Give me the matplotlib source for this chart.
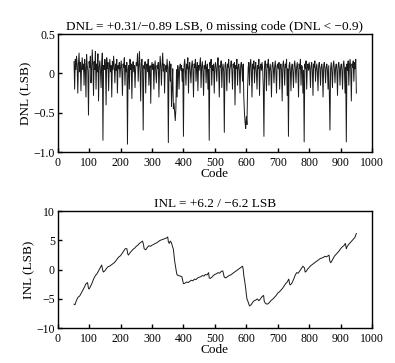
import matplotlib
matplotlib.use("Agg")
import matplotlib.pyplot as plt

plt.rcParams['font.family'] = ['Liberation Serif', 'DejaVu Serif']

# DNL (LSB), one value every 2 codes from 52 to 950
dnl_codes = list(range(52, 951, 2))
dnl_values = [
    .15, -.20, .18, .05, .22, .10, -.25, .12, .26, .02, .14, -.22, .08, .20, .05, .12, -.15, .18, .06, -.30, .24, .10, .03, -.53, .15,
    .08, .22, -.12, .06, .30, .10, -.28, .15, .05, .28, -.20, .12, .02, .25, -.35, .08, .16, .04, -.18, .12, .26, -.85, .10, .05, .18,
    .12, -.40, .20, .06, .14, -.22, .08, .18, .02, .10, -.30, .15, .05, .22, .08, -.12, .12, .04, .18, -.25, .10, .06, .14, -.05, .08,
    .16, .04, -.28, .12, .08, .20, -.15, .10, .02, .14, -.90, .06, .10, -.20, .18, .05, .12, -.32, .08, .15, .02, .10, -.18, .06, .14,
    .10, .25, -.10, .08, .28, .05, -.35, .12, .18, .04, -.72, .10, .06, .15, -.25, .08, .12, .02, .18, -.15, .06, .10, -.38, .08, .14,
    .05, .12, -.20, .08, .16, .02, -.12, .10, .06, .14, -.30, .04, .22, .08, -.15, .10, .26, .03, .12, -.25, .06, .10, .02, .18, .05,
    -.88, .08, .15, -.10, .12, -.42, -.20, .06, -.45, -.38, -.50, -.60, -.45, .05, -.30, .10, .02, -.20, .08, .12, .04, .10, -.10, .06, -.80,
    .10, .18, .04, -.15, .12, .06, .20, -.25, .08, .14, .02, -.12, .10, .16, .05, -.30, .12, .08, .18, -.10, .06, .14, -.22, .10, .04,
    .12, .20, -.18, .08, .15, .03, -.28, .10, .06, .16, -.12, .08, .12, -.20, .05, -.85, .14, .08, .18, -.15, .10, .04, .12, -.25, .08,
    .14, .06, -.10, .12, .20, .04, -.30, .10, .08, .16, -.18, .06, .12, .02, -.75, .10, .14, .05, -.22, .12, .08, .18, -.12, .06, .10,
    .16, .04, -.20, .12, .08, .14, -.40, .10, .06, .18, -.15, .08, .12, .04, -.25, .10, .14, .06, -.10, .12, -.30, -.50, -.62, -.70, -.55,
    -.65, -.20, .08, .14, -.15, .10, .18, .04, -.30, .12, .06, .16, -.12, .08, .14, .02, -.20, .10, .06, .18, -.28, .08, .12, .04, .14,
    .06, -.18, -.80, .10, .16, .04, -.22, .12, .08, .18, -.15, .06, .12, .02, -.30, .10, .14, .06, -.12, .08, .16, .04, -.25, .10, .12,
    .06, .14, -.20, .08, .12, .04, -.35, .10, .16, .06, -.15, .12, .08, .18, -.28, .06, -.80, .10, .14, .04, -.22, .08, .12, .02, -.18,
    .10, .16, .06, -.12, .08, .14, .04, -.30, .12, .06, .18, -.15, .10, .08, -.25, .04, -.87, .12, .06, .16, -.20, .08, .12, .04, .14,
    .06, -.18, .10, .14, .04, -.28, .12, .08, .16, -.10, .06, .12, .02, -.22, .10, .14, .06, -.15, .08, .12, .04, -.30, .10, .14, .06,
    -.12, .08, .12, .04, -.20, .10, -.25, -.72, .06, .14, .02, -.18, .10, .16, .06, -.12, .08, .12, .04, -.28, .10, .14, .06, -.15, .08,
    .12, .04, -.20, .10, .16, .06, -.25, .08, -.87, .12, .04, .16, -.15, .10, .18, .06, -.35, .12, .08, .16, -.10, .14, .06, .18, -.25,
]

# INL (LSB) read at selected codes
inl_codes = [
    52, 55, 60, 65, 70, 75, 80, 85, 90, 95, 98, 100, 105, 110, 115, 120, 125, 130, 135, 140,
    143, 145, 150, 155, 160, 165, 170, 175, 180, 185, 190, 195, 200, 205, 210, 215, 220, 223, 225, 230,
    235, 240, 245, 250, 255, 260, 265, 270, 273, 275, 280, 285, 290, 295, 300, 305, 310, 315, 320, 325,
    330, 335, 340, 345, 350, 352, 355, 358, 362, 365, 368, 370, 372, 375, 378, 380, 385, 390, 395, 398,
    400, 405, 410, 415, 420, 425, 430, 435, 440, 445, 450, 455, 460, 465, 470, 475, 480, 482, 485, 490,
    495, 500, 505, 510, 515, 520, 525, 530, 535, 540, 545, 550, 555, 560, 565, 570, 575, 580, 585, 588,
    590, 592, 595, 598, 600, 602, 605, 608, 610, 615, 620, 625, 630, 635, 640, 645, 650, 655, 657, 660,
    665, 670, 675, 680, 685, 690, 695, 700, 705, 710, 715, 720, 725, 730, 735, 738, 740, 745, 750, 755,
    760, 765, 770, 775, 780, 785, 787, 790, 795, 800, 805, 810, 815, 820, 825, 830, 835, 840, 845, 850,
    855, 860, 863, 865, 868, 870, 875, 880, 885, 890, 895, 900, 905, 910, 915, 918, 920, 925, 930, 935,
    940, 945, 950,
]
inl_values = [
    -5.9, -6.0, -5.2, -4.7, -4.5, -4.0, -3.5, -3.0, -2.4, -2.2, -3.2, -3.3, -2.8, -2.2, -1.5, -1.0, -0.7, -0.2, 0.3, 0.8,
    0.0, -0.4, -0.2, 0.2, 0.5, 0.6, 0.8, 1.0, 1.2, 1.5, 1.9, 2.2, 2.4, 2.8, 3.2, 3.6, 3.6, 2.7, 2.5, 2.9,
    3.2, 3.5, 3.7, 4.0, 4.2, 4.5, 4.7, 4.9, 4.3, 3.6, 3.4, 3.8, 4.1, 4.0, 4.2, 4.3, 4.5, 4.6, 4.8, 5.0,
    5.1, 5.2, 5.3, 5.4, 5.6, 4.8, 4.5, 4.9, 4.6, 4.0, 3.5, 2.5, 1.5, 0.5, -0.5, -0.9, -1.0, -1.1, -1.2, -1.9,
    -2.4, -2.3, -2.1, -2.2, -2.0, -1.8, -1.9, -1.6, -1.7, -1.4, -1.3, -1.2, -1.0, -1.1, -0.8, -0.9, -0.5, -1.4, -1.5, -1.3,
    -1.0, -0.8, -0.7, -0.5, -0.6, -0.3, -0.2, -1.3, -1.4, -1.2, -1.0, -0.9, -0.7, -0.5, -0.3, -0.1, 0.1, 0.3, 0.5, 0.6,
    0.1, -1.0, -2.0, -3.2, -4.2, -5.0, -5.4, -5.9, -6.2, -6.0, -5.6, -5.3, -5.2, -5.0, -5.3, -5.0, -4.6, -4.4, -5.4, -5.7,
    -5.9, -5.8, -5.5, -5.2, -5.0, -4.7, -4.4, -4.0, -3.8, -3.5, -3.2, -2.8, -2.4, -2.1, -1.6, -2.5, -2.6, -2.3, -1.7, -1.0,
    -0.5, -0.6, -0.2, 0.2, 0.6, 0.3, -0.4, -0.3, 0.1, 0.4, 0.7, 0.9, 1.1, 1.3, 1.5, 1.7, 1.9, 2.0, 2.1, 2.3,
    2.2, 2.4, 2.5, 1.6, 1.2, 1.3, 1.8, 2.3, 2.6, 2.9, 3.2, 3.6, 3.9, 4.1, 4.5, 3.6, 3.9, 4.3, 4.6, 4.9,
    5.2, 5.5, 6.2,
]

# tick labels
code_ticks = list(range(0, 1001, 100))
dnl_ticks = [-1.0, -0.5, 0, 0.5]
dnl_ticklabels = ['\u22121.0', '\u22120.5', '0', '0.5']
inl_ticks = [-10, -5, 0, 5, 10]
inl_ticklabels = ['\u221210', '\u22125', '0', '5', '10']

fig = plt.figure(figsize=(3.95, 3.63), dpi=100)
ax1 = fig.add_axes([0.146, 0.581, 0.796, 0.325])
ax2 = fig.add_axes([0.146, 0.096, 0.796, 0.322])

ax1.plot(dnl_codes, dnl_values, color='#1a1a1a', linewidth=0.7)
ax1.set_xlim(0, 1000)
ax1.set_ylim(-1.0, 0.5)
ax1.set_yticks(dnl_ticks)
ax1.set_yticklabels(dnl_ticklabels)
ax1.set_ylabel('DNL (LSB)', fontsize=9.5, labelpad=1)
ax1.set_xlabel('Code', fontsize=9.5, labelpad=-1)
ax1.set_title('DNL = +0.31/\u22120.89 LSB, 0 missing code (DNL < \u22120.9)', fontsize=9.5, pad=3)

ax2.plot(inl_codes, inl_values, color='#1a1a1a', linewidth=0.7)
ax2.set_xlim(0, 1000)
ax2.set_ylim(-10, 10)
ax2.set_yticks(inl_ticks)
ax2.set_yticklabels(inl_ticklabels)
ax2.set_ylabel('INL (LSB)', fontsize=9.5, labelpad=1)
ax2.set_xlabel('Code', fontsize=9.5, labelpad=-1)
ax2.set_title('INL = +6.2 / \u22126.2 LSB', fontsize=9.5, pad=3)

for ax in (ax1, ax2):
    ax.set_xticks(code_ticks)
    ax.tick_params(direction='in', length=3, width=1, labelsize=8.5,
                   top=False, right=False)
    ax.tick_params(axis='x', pad=3.5)
    ax.tick_params(axis='y', pad=2)
    for s in ax.spines.values():
        s.set_linewidth(1.0)

fig.savefig('out.png', dpi=100)
